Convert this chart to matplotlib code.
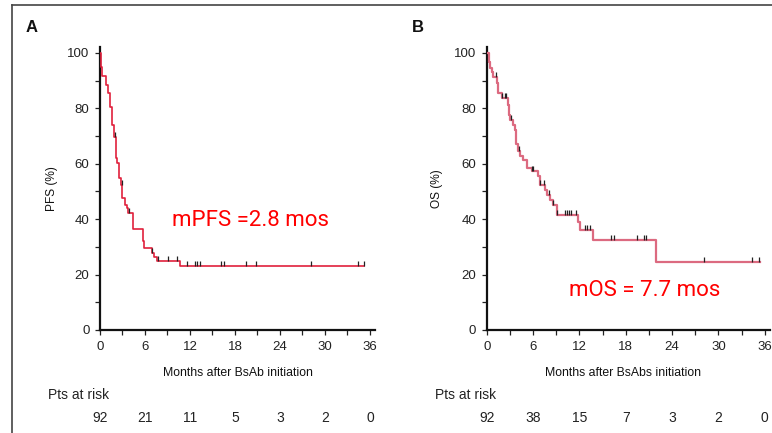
import numpy as np
import matplotlib
matplotlib.use("Agg")
import matplotlib.pyplot as plt
from matplotlib.lines import Line2D
from matplotlib.transforms import blended_transform_factory

# PFS (panel A): step times (months) and survival (%)
pfs_time = [0, 0.1, 0.22, 0.8, 1.1, 1.33, 1.55, 1.87, 2.09, 2.31, 2.53, 2.76, 2.93,
            3.33, 3.64, 3.78, 4.44, 5.78, 5.9, 6.89, 7.2, 7.56, 10.67]
pfs_surv = [100, 95, 91.6, 88.4, 85.4, 80.6, 74, 69.8, 62, 60.2, 54.8, 52.4, 47.6,
            45.2, 44, 42.2, 36.5, 32, 29.6, 27.8, 26.4, 24.8, 23]
pfs_end = 35.2
pfs_censor = [2.0, 2.9, 3.9, 6.9, 7.8, 9.1, 10.3, 11.6, 12.7, 12.9, 13.3,
              16.1, 16.5, 19.5, 20.8, 28.1, 34.4, 35.2]

# OS (panel B)
os_time = [0, 0.26, 0.43, 0.65, 0.86, 1.3, 1.5, 2.0, 2.8, 2.85, 3.0, 3.45, 3.67, 3.8,
           4.1, 4.3, 4.75, 5.18, 5.83, 6.7, 6.9, 7.55, 7.77, 8.2, 8.55, 9.07,
           11.8, 12.1, 13.7, 21.9]
os_surv = [100, 96.8, 94.4, 93.2, 91.4, 89, 85.6, 83.6, 81.2, 77.6, 75.8, 74, 72.2, 67.2,
           64.4, 62.8, 61.4, 58.4, 57.2, 55.6, 52.4, 50.6, 48.8, 47, 45.2, 41.4,
           38.9, 36.2, 32.6, 24.5]
os_end = 35.4
os_censor = [1.2, 2.0, 2.37, 2.5, 3.2, 4.2, 5.9, 6.0, 6.9, 7.4, 8.0, 8.6,
             9.15, 10.1, 10.4, 10.7, 10.9, 11.6, 12.7, 12.95, 13.4,
             16.1, 16.5, 19.4, 20.3, 20.6, 28.1, 34.4, 35.3]

x_ticks = [0, 6, 12, 18, 24, 30, 36]
pfs_risk = [92, 21, 11, 5, 3, 2, 0]
os_risk = [92, 38, 15, 7, 3, 2, 0]

W, H = 772, 433
fig = plt.figure(figsize=(W / 100, H / 100), dpi=100)
sans = ["Liberation Sans", "DejaVu Sans"]


def fx(px):
    return px / W


def fy(py):
    return 1 - py / H


# frame lines (top and left)
fig.add_artist(Line2D([fx(12), 1], [fy(5), fy(5)], color="#444444", lw=1.2))
fig.add_artist(Line2D([fx(12), fx(12)], [fy(5), 0], color="#444444", lw=1.2))


def km_panel(ax, times, surv, end, censor, color, lw, risk, xlabel, ylabel,
             note, note_xy, xcen, ylab_x, risk_left):
    t = list(times) + [end]
    s = list(surv) + [surv[-1]]
    ax.step(t, s, where="post", color=color, lw=lw, zorder=3)
    idx = np.searchsorted(times, censor, side="right") - 1
    cs = np.array(surv)[idx]
    ax.plot(censor, cs, linestyle="none", marker=[(0, 0), (0, 1)],
            markersize=7.5, markeredgewidth=0.9, color="#222222", zorder=4)

    ax.set_xlim(0, 36.67)
    ax.set_ylim(0, 102.2)
    ax.set_xticks(x_ticks)
    ax.set_xticks(np.arange(3, 36, 6), minor=True)
    ax.set_yticks([0, 20, 40, 60, 80, 100])
    ax.set_yticks([10, 30, 50, 70, 90], minor=True)
    for side in ["top", "right"]:
        ax.spines[side].set_visible(False)
    for side in ["left", "bottom"]:
        ax.spines[side].set_linewidth(1.6)
        ax.spines[side].set_color("#111111")
    ax.tick_params(which="both", length=3.6, width=0.9, color="#222222")
    ax.tick_params(axis="x", pad=4.5, labelsize=9.5)
    ax.tick_params(axis="y", pad=4, labelsize=9.5)
    for lab in ax.get_xticklabels() + ax.get_yticklabels():
        lab.set_family(sans)
        lab.set_color("#222222")

    fig.text(fx(xcen), fy(373), xlabel, ha="center", va="center",
             fontsize=8.8, family=sans, color="#111111")
    fig.text(fx(ylab_x), fy(189), ylabel, ha="center", va="center",
             rotation=90, fontsize=8.6, family=sans, color="#111111")
    ax.text(note_xy[0], note_xy[1], note, ha="left", va="center",
            fontsize=16, color="#ff0000", family=["Roboto", "DejaVu Sans"])

    fig.text(fx(risk_left), fy(395), "Pts at risk", ha="left", va="center",
             fontsize=10, family=sans, color="#222222")
    tr = blended_transform_factory(ax.transData, fig.transFigure)
    for xv, n in zip(x_ticks, risk):
        ax.text(xv, fy(418), str(n), transform=tr, ha="center", va="center",
                fontsize=10, family=sans, color="#222222", clip_on=False)


axA = fig.add_axes([fx(100), fy(330), 275 / W, 283.3 / H])
km_panel(axA, pfs_time, pfs_surv, pfs_end, pfs_censor, "#e0203c", 1.2, pfs_risk,
         "Months after BsAb initiation", "PFS (%)", "mPFS =2.8 mos", (9.6, 39.6),
         238, 52, 48)

axB = fig.add_axes([fx(486.7), fy(330), 283.3 / W, 283.3 / H])
km_panel(axB, os_time, os_surv, os_end, os_censor, "#dc6a80", 1.6, os_risk,
         "Months after BsAbs initiation", "OS (%)", "mOS = 7.7 mos", (10.7, 14.4),
         623, 437, 435)

fig.text(fx(32), fy(28), "A", ha="center", va="center", fontsize=12,
         fontweight="bold", family=sans, color="#111111")
fig.text(fx(418), fy(27), "B", ha="center", va="center", fontsize=12,
         fontweight="bold", family=sans, color="#111111")

fig.savefig("out.png", dpi=100)
